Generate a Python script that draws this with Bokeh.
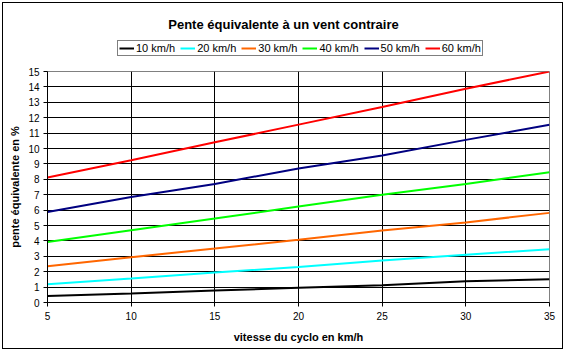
from bokeh.plotting import figure
from bokeh.layouts import column
from bokeh.models import (Range1d, FixedTicker, Legend, LegendItem, Label,
                          InlineStyleSheet)
from bokeh.embed import file_html
from bokeh.resources import INLINE

# Data
speeds = [5, 10, 15, 20, 25, 30, 35]
wind_10 = [0.43, 0.58, 0.78, 0.95, 1.12, 1.38, 1.51]
wind_20 = [1.19, 1.56, 1.95, 2.30, 2.73, 3.10, 3.46]
wind_30 = [2.35, 2.94, 3.50, 4.07, 4.67, 5.20, 5.82]
wind_40 = [3.93, 4.69, 5.45, 6.23, 7.00, 7.70, 8.46]
wind_50 = [5.87, 6.85, 7.70, 8.70, 9.55, 10.56, 11.54]
wind_60 = [8.12, 9.24, 10.40, 11.55, 12.70, 13.88, 15.00]
series_labels = ["10 km/h", "20 km/h", "30 km/h", "40 km/h", "50 km/h", "60 km/h"]
series_values = [wind_10, wind_20, wind_30, wind_40, wind_50, wind_60]
colors = ["#000000", "#00FFFF", "#FF6600", "#00FF00", "#000080", "#FF0000"]
x_ticks = [5, 10, 15, 20, 25, 30, 35]
y_ticks = list(range(0, 16))
title_text = "Pente équivalente à un vent contraire"
x_label = "vitesse du cyclo en km/h"
y_label = "pente équivalente en %"

FONT = "Liberation Sans"

# ---------- header figure: title + legend ----------
# Its frame is aligned with the main plot's frame by the column layout.
top = figure(width=567, height=61, output_backend="svg", toolbar_location=None,
             x_range=Range1d(0, 1), y_range=Range1d(0, 1),
             x_axis_type=None, y_axis_type=None,
             min_border_left=0, min_border_right=0, min_border_top=0,
             min_border_bottom=0, title=None)
top.outline_line_color = None
top.xgrid.visible = False
top.ygrid.visible = False
top.background_fill_color = "white"
top.border_fill_color = "white"

items = []
for lbl, vals, c in zip(series_labels, series_values, colors):
    # series drawn outside this header's view, used only for legend swatches
    r = top.line(speeds, vals, line_color=c, line_width=2)
    items.append(LegendItem(label=lbl, renderers=[r]))

legend = Legend(items=items, orientation="horizontal", location=(70, 5),
                label_text_font=FONT, label_text_font_size="11px",
                label_text_color="black",
                label_standoff=2, glyph_width=15, glyph_height=8,
                spacing=5, padding=1, margin=0,
                border_line_color="black", border_line_width=1,
                background_fill_color="white", background_fill_alpha=1.0,
                label_height=8)
top.add_layout(legend, "center")

title = Label(x=236, y=37, x_units="screen", y_units="screen",
              text=title_text,
              text_font=FONT, text_font_size="13px", text_font_style="bold",
              text_align="center", text_baseline="middle", text_color="black")
top.add_layout(title)

# ---------- main plot ----------
p = figure(width=567, height=291, output_backend="svg", toolbar_location=None,
           x_range=Range1d(5, 35), y_range=Range1d(0, 15),
           min_border_left=47, min_border_right=18, min_border_top=10,
           min_border_bottom=50, title=None)
p.background_fill_color = "white"
p.border_fill_color = "white"
p.outline_line_color = "#808080"
p.outline_line_width = 1

p.xaxis.ticker = FixedTicker(ticks=x_ticks)
p.yaxis.ticker = FixedTicker(ticks=y_ticks)
for ax in (p.xaxis[0], p.yaxis[0]):
    ax.axis_line_color = "black"
    ax.major_tick_line_color = "black"
    ax.major_tick_out = 4
    ax.major_tick_in = 0
    ax.minor_tick_line_color = None
    ax.major_label_text_font = FONT
    ax.major_label_text_font_size = "10px"
    ax.major_label_text_color = "black"
    ax.axis_label_text_font = FONT
    ax.axis_label_text_font_size = "11px"
    ax.axis_label_text_font_style = "bold"
    ax.axis_label_text_color = "black"
p.xaxis.axis_label = x_label
p.yaxis.axis_label = y_label
p.xaxis.major_label_standoff = 5
p.xaxis.axis_label_standoff = 8
p.yaxis.major_label_standoff = 4
p.yaxis.axis_label_standoff = 4

p.xgrid.ticker = FixedTicker(ticks=[10, 15, 20, 25, 30])
p.ygrid.ticker = FixedTicker(ticks=list(range(1, 15)))
p.xgrid.grid_line_color = "black"
p.ygrid.grid_line_color = "black"
p.xgrid.grid_line_width = 1
p.ygrid.grid_line_width = 1

for vals, c in zip(series_values, colors):
    p.line(speeds, vals, line_color=c, line_width=2)

layout = column(top, p, spacing=0)
layout.stylesheets = [InlineStyleSheet(css=""":host { position: relative; }
:host::after { content: ''; position: absolute; left: 2px; top: 2px;
  width: 561px; height: 347px; border: 1px solid black;
  box-sizing: border-box; pointer-events: none; z-index: 100; }""")]

open("out.html", "w").write(file_html(layout, INLINE))
